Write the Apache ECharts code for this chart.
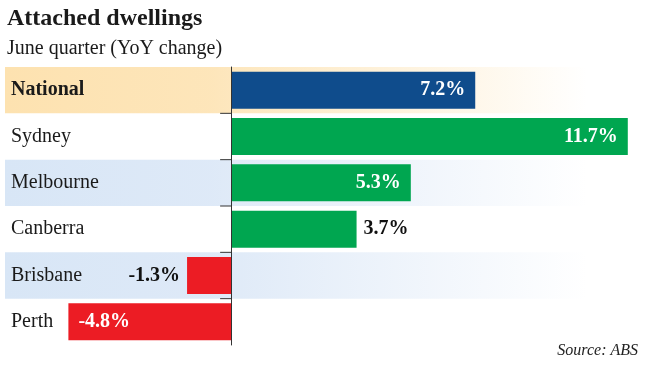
<!DOCTYPE html>
<html>
<head>
<meta charset="utf-8">
<script src="https://cdn.jsdelivr.net/npm/echarts@6/dist/echarts.min.js"></script>
<style>
html,body{margin:0;padding:0;background:#fff;}
#chart{width:650px;height:366px;}
</style>
</head>
<body>
<div id="chart"></div>
<script>
// ---- data ----
const categories = ['National', 'Sydney', 'Melbourne', 'Canberra', 'Brisbane', 'Perth'];
const values = [7.2, 11.7, 5.3, 3.7, -1.3, -4.8];
const titleText = 'Attached dwellings';
const subtitleText = 'June quarter (YoY change)';
const sourceText = 'Source: ABS';

// ---- styles (kept separate from data) ----
const barColors = { National: '#0f4c8c', Sydney: '#00a650', Melbourne: '#00a650', Canberra: '#00a650', Brisbane: '#ec1c24', Perth: '#ec1c24' };
const bandStyle = { National: 'orange', Melbourne: 'blue', Brisbane: 'blue' };
const bandGradients = {
  orange: [[0, 'rgba(253,226,176,1)'], [0.35, 'rgba(253,228,182,0.95)'], [1, 'rgba(253,228,182,0)']],
  blue: [[0, 'rgba(216,230,246,1)'], [0.35, 'rgba(220,232,247,0.95)'], [1, 'rgba(220,232,247,0)']]
};
const serif = '"Liberation Serif", "DejaVu Serif", serif';
const xMin = -6.67, xMax = 12.06;
const bandFrom = xMin, bandTo = 10.5;

const chart = echarts.init(document.getElementById('chart'), null, { renderer: 'canvas' });

const barData = values.map((v, i) => {
  const inside = Math.abs(v) >= 4;
  return {
    value: v,
    itemStyle: { color: barColors[categories[i]] },
    label: {
      show: true,
      position: inside ? (v >= 0 ? 'insideRight' : 'insideLeft') : (v >= 0 ? 'right' : 'left'),
      distance: inside ? 10 : 7,
      color: inside ? '#ffffff' : '#111111'
    }
  };
});

const option = {
  animation: false,
  backgroundColor: '#ffffff',
  title: [
    { text: titleText, left: 2, top: 2, textStyle: { fontFamily: serif, fontWeight: 'bold', fontSize: 24, color: '#1a1a1a' } },
    { text: subtitleText, left: 2, top: 34, textStyle: { fontFamily: serif, fontWeight: 'normal', fontSize: 20, color: '#1a1a1a' } }
  ],
  grid: { left: 5, right: 10, top: 67, bottom: 21, containLabel: false, outerBoundsMode: 'none' },
  xAxis: {
    type: 'value', min: xMin, max: xMax,
    show: false, splitLine: { show: false }
  },
  yAxis: {
    type: 'category', inverse: true, data: categories, z: 5,
    axisLine: { show: true, onZero: true, lineStyle: { color: '#333', width: 1 } },
    axisTick: { show: false },
    axisLabel: {
      show: true, margin: -6, align: 'left', fontFamily: serif, fontSize: 20, color: '#1a1a1a',
      formatter: v => v === 'National' ? '{b|' + v + '}' : v,
      rich: { b: { fontFamily: serif, fontSize: 20, fontWeight: 'bold', color: '#1a1a1a' } }
    },
    splitLine: { show: false }
  },
  series: [
    {
      type: 'custom', z: 1, silent: true,
      data: categories.map((c, i) => [i]),
      encode: { y: 0 },
      renderItem: function (params, api) {
        const i = api.value(0);
        const cat = categories[i];
        const h = api.size([0, 1])[1];
        const p0 = api.coord([bandFrom, i]);
        const p1 = api.coord([bandTo, i]);
        const zero = api.coord([0, i]);
        const children = [];
        const key = bandStyle[cat];
        if (key) {
          children.push({
            type: 'rect',
            shape: { x: p0[0], y: p0[1] - h / 2, width: p1[0] - p0[0], height: h },
            style: { fill: { type: 'linear', x: 0, y: 0, x2: 1, y2: 0, colorStops: bandGradients[key].map(s => ({ offset: s[0], color: s[1] })) } }
          });
        }
        if (i > 0) {
          children.push({
            type: 'line', z2: 10,
            shape: { x1: zero[0] - 11, y1: zero[1] - h / 2, x2: zero[0], y2: zero[1] - h / 2 },
            style: { stroke: '#333', lineWidth: 1 }
          });
        }
        return { type: 'group', children: children };
      }
    },
    {
      type: 'bar', z: 2,
      data: barData,
      barWidth: '80%',
      label: {
        show: true,
        formatter: p => p.value + '%',
        fontFamily: serif, fontWeight: 'bold', fontSize: 20
      }
    }
  ],
  graphic: [
    {
      type: 'text', right: 12, top: 343,
      style: { text: sourceText, font: 'italic 16px ' + serif, fill: '#222' }
    }
  ]
};
chart.setOption(option);
</script>
</body>
</html>
